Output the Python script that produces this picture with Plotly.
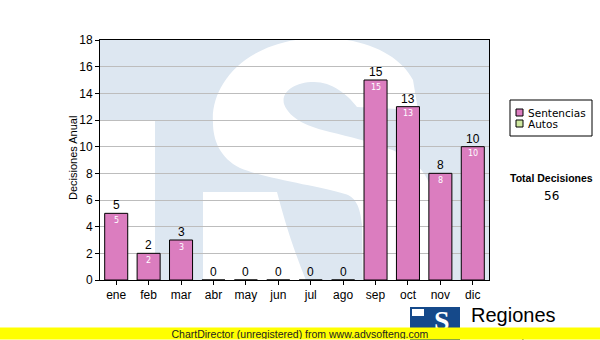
import plotly.graph_objects as go

# ---------------- data ----------------
months = ["ene", "feb", "mar", "abr", "may", "jun", "jul", "ago", "sep", "oct", "nov", "dic"]
sentencias = [5, 2, 3, 0, 0, 0, 0, 0, 15, 13, 8, 10]
autos = [0, 0, 0, 0, 0, 0, 0, 0, 0, 0, 0, 0]
y_ticks = [0, 2, 4, 6, 8, 10, 12, 14, 16, 18]
total = sum(sentencias) + sum(autos)

# ---------------- geometry helpers ----------------
W, H = 600, 340
L, R, T, B = 100, 489, 40, 280  # plot area in pixels
N = len(months)


def dx(px):  # pixel -> data x
    return (px - L) / (R - L) * N - 0.5


def dy(py):  # pixel -> data y
    return (B - py) / (B - T) * 18


def px_(px):  # pixel -> paper x
    return (px - L) / (R - L)


def py_(py):  # pixel -> paper y
    return (B - py) / (B - T)


FONT = "Liberation Sans, Arial, sans-serif"
VFONT = "DejaVu Sans, Verdana, sans-serif"
PINK = "#db7dbf"
GREEN = "#cfe8a0"
WATER = "#dde7f1"

x_idx = list(range(N))

fig = go.Figure()
fig.add_trace(go.Bar(x=x_idx, y=sentencias, name="Sentencias", width=0.71,
                     marker=dict(color=PINK, line=dict(color="black", width=1)),
                     showlegend=False, hoverinfo="skip"))
fig.add_trace(go.Bar(x=x_idx, y=autos, name="Autos", width=0.71,
                     marker=dict(color=GREEN, line=dict(width=0)),
                     showlegend=False, hoverinfo="skip"))

shapes = []
# watermark: light blue "T" + square
shapes.append(dict(type="rect", xref="x", yref="y", x0=dx(L), x1=dx(R), y0=dy(120), y1=dy(T),
                   fillcolor=WATER, line=dict(width=0), layer="below"))
shapes.append(dict(type="rect", xref="x", yref="y", x0=dx(155), x1=dx(R), y0=dy(B), y1=dy(119),
                   fillcolor=WATER, line=dict(width=0), layer="below"))
# watermark: white "S"
s_cmds = [
    ("M", [(213, 123)]),
    ("C", [(210, 85), (245, 40), (317, 38)]),
    ("C", [(365, 37), (400, 55), (413, 80)]),
    ("L", [(418, 110)]),
    ("L", [(357, 107)]),
    ("C", [(347, 94), (332, 82), (314, 82)]),
    ("C", [(294, 82), (281, 92), (284, 104)]),
    ("C", [(290, 120), (310, 127), (330, 132)]),
    ("C", [(370, 142), (410, 150), (425, 175)]),
    ("C", [(440, 200), (447, 250), (442, 300)]),
    ("L", [(203, 300)]),
    ("L", [(203, 192)]),
    ("L", [(277, 192)]),
    ("C", [(283, 215), (293, 250), (310, 290)]),
    ("L", [(363, 295)]),
    ("L", [(362, 225)]),
    ("C", [(360, 205), (355, 197), (345, 194)]),
    ("C", [(320, 186), (270, 180), (240, 168)]),
    ("C", [(220, 158), (213, 140), (213, 123)]),
]
path = ""
for c, pts in s_cmds:
    path += c + " ".join(f"{dx(a):.4f},{dy(b):.4f}" for a, b in pts) + " "
path += "Z"
shapes.append(dict(type="path", xref="x", yref="y", path=path, fillcolor="white",
                   line=dict(width=0), layer="below"))

# legend box
shapes.append(dict(type="rect", xref="paper", yref="paper", x0=px_(510), x1=px_(592),
                   y0=py_(136), y1=py_(100), fillcolor="white", line=dict(color="black", width=1)))
shapes.append(dict(type="rect", xref="paper", yref="paper", x0=px_(516), x1=px_(523),
                   y0=py_(116), y1=py_(109), fillcolor=PINK, line=dict(color="black", width=1)))
shapes.append(dict(type="rect", xref="paper", yref="paper", x0=px_(516), x1=px_(523),
                   y0=py_(127), y1=py_(120), fillcolor=GREEN, line=dict(color="black", width=1)))
# bottom logo block
shapes.append(dict(type="rect", xref="paper", yref="paper", x0=px_(410), x1=px_(460),
                   y0=py_(340), y1=py_(307), fillcolor="#15498a", line=dict(width=0)))
shapes.append(dict(type="rect", xref="paper", yref="paper", x0=px_(412), x1=px_(424),
                   y0=py_(316), y1=py_(309), fillcolor="white", line=dict(width=0)))


def ann(text, x, y, size, family=FONT, color="black", xa="center", ya="middle", **kw):
    return dict(text=text, x=px_(x), y=py_(y), xref="paper", yref="paper", xanchor=xa,
                yanchor=ya, showarrow=False, font=dict(family=family, size=size, color=color), **kw)


annotations = []
# value labels (positioned through the axes)
tot = [s + a for s, a in zip(sentencias, autos)]
for i, v in zip(x_idx, tot):
    annotations.append(dict(text=str(v), x=i, y=v, xref="x", yref="y", xanchor="center",
                            yanchor="bottom", yshift=-1, showarrow=False,
                            font=dict(family=FONT, size=12, color="black")))
for i, v in zip(x_idx, sentencias):
    if v > 0:
        annotations.append(dict(text=str(v), x=i, y=v, xref="x", yref="y", xanchor="center",
                                yanchor="middle", yshift=-7, showarrow=False,
                                font=dict(family=VFONT, size=8, color="white")))

annotations += [
    ann("Decisiones Anual", 73, 158, 11, textangle=-90),
    ann("Sentencias", 526, 113, 10.5, family=VFONT, xa="left"),
    ann("Autos", 526, 124, 10.5, family=VFONT, xa="left"),
    ann("<b>Total Decisiones</b>", 551, 178, 10.5),
    ann(str(total), 551, 196, 12, family=VFONT),
    ann("<b>S</b>", 442, 320, 28, family="Liberation Serif, serif", color="white"),
    ann("Regiones", 469, 315, 20, xa="left"),
    ann("Tribunal Supremo de Justicia", 469, 335, 10, xa="left"),
    dict(text="ChartDirector (unregistered) from www.advsofteng.com", x=px_(300), y=py_(340),
         xref="paper", yref="paper", xanchor="center", yanchor="bottom", width=600, height=11,
         bgcolor="#ffff00", borderpad=0, showarrow=False, valign="middle",
         font=dict(family=FONT, size=10.5, color="#222222")),
]

fig.update_layout(
    width=W, height=H,
    margin=dict(l=L, r=W - R, t=T, b=H - B, pad=0),
    paper_bgcolor="white", plot_bgcolor="white",
    barmode="overlay",
    showlegend=False,
    shapes=shapes,
    annotations=annotations,
    xaxis=dict(range=[-0.5, N - 0.5], tickmode="array", tickvals=x_idx, ticktext=months,
               showgrid=False, zeroline=False, showline=True, linecolor="black", linewidth=1,
               mirror=True, ticks="outside", ticklen=4, tickcolor="black",
               tickfont=dict(family=FONT, size=12, color="black"), fixedrange=True),
    yaxis=dict(range=[0, 18], tickmode="array", tickvals=y_ticks,
               showgrid=True, gridcolor="#bdbdbd", gridwidth=1, zeroline=False,
               showline=True, linecolor="black", linewidth=1, mirror=True,
               ticks="outside", ticklen=4, tickcolor="black",
               tickfont=dict(family=FONT, size=12, color="black"), fixedrange=True),
)

fig.write_html("out.html")
